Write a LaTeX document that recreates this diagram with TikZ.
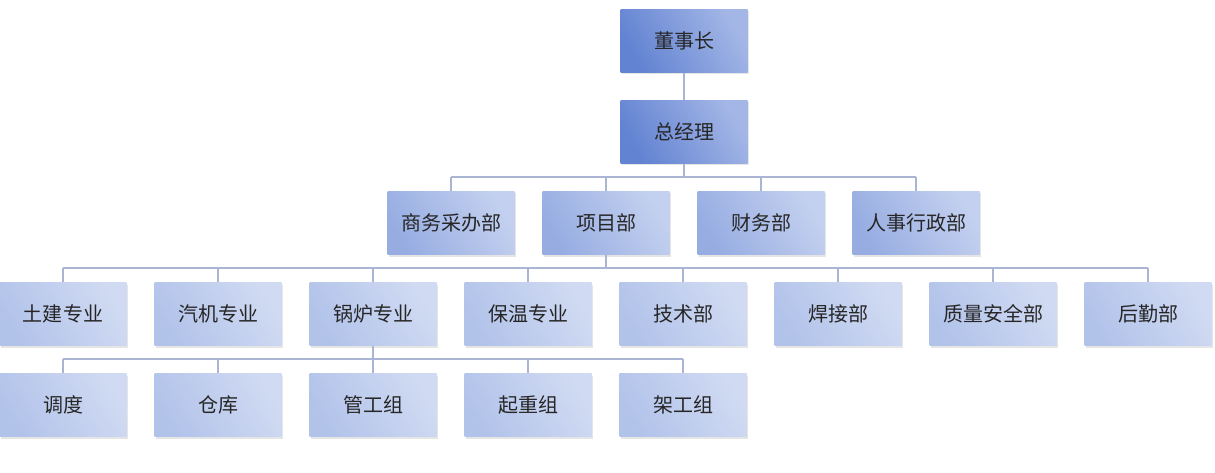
\documentclass[tikz,border=0pt]{standalone}
\usepackage{fontspec}
\setmainfont{Noto Sans CJK SC}
\usetikzlibrary{shadows}
\definecolor{lA}{HTML}{A3B6E6}\definecolor{dA}{HTML}{6283D2}
\definecolor{lB}{HTML}{C3D0EF}\definecolor{dB}{HTML}{97ADE2}
\definecolor{lC}{HTML}{D0DAF2}\definecolor{dC}{HTML}{B2C3EA}
\definecolor{ln}{HTML}{A9B5D2}
\begin{document}
\begin{tikzpicture}[x=1pt,y=-1pt,
 box/.style={minimum width=127pt,minimum height=63pt,inner sep=0pt,font=\fontsize{20}{24}\selectfont,text=black!85,
   drop shadow={shadow xshift=1pt,shadow yshift=-2pt,fill=black!25,opacity=.4}},
 bA/.style={box,shading=axis,left color=lA,right color=dA,shading angle=-60},
 bB/.style={box,shading=axis,left color=lB,right color=dB,shading angle=-60},
 bC/.style={box,shading=axis,left color=lC,right color=dC,shading angle=-60},
 conn/.style={draw=ln,line width=1.6pt}]
\useasboundingbox (0,0) rectangle (1215,473);
\node[bA] (ceo) at (684,41) {董事长};
\node[bA] (gm) at (684,132) {总经理};
\foreach \n/\x/\t in {s1/451/商务采办部,s2/606/项目部,s3/761/财务部,s4/916/人事行政部}
  \node[bB] (\n) at (\x,223) {\t};
\foreach \n/\x/\t in {p1/63/土建专业,p2/218/汽机专业,p3/373/锅炉专业,p4/528/保温专业,p5/683/技术部,p6/838/焊接部,p7/993/质量安全部,p8/1148/后勤部}
  \node[bC] (\n) at (\x,314) {\t};
\foreach \n/\x/\t in {q1/63/调度,q2/218/仓库,q3/373/管工组,q4/528/起重组,q5/683/架工组}
  \node[bC] (\n) at (\x,405) {\t};
\draw[conn] (ceo) -- (gm);
\coordinate (b1) at (684,177);
\draw[conn] (gm) -- (b1);
\draw[conn] (s1.north |- b1) -- (s4.north |- b1);
\foreach \n in {s1,s2,s3,s4} \draw[conn] (\n.north |- b1) -- (\n.north);
\coordinate (b2) at (606,268);
\draw[conn] (s2) -- (b2);
\draw[conn] (p1.north |- b2) -- (p8.north |- b2);
\foreach \n in {p1,p2,p3,p4,p5,p6,p7,p8} \draw[conn] (\n.north |- b2) -- (\n.north);
\coordinate (b3) at (373,359);
\draw[conn] (p3) -- (b3);
\draw[conn] (q1.north |- b3) -- (q5.north |- b3);
\foreach \n in {q1,q2,q3,q4,q5} \draw[conn] (\n.north |- b3) -- (\n.north);
\end{tikzpicture}
\end{document}
